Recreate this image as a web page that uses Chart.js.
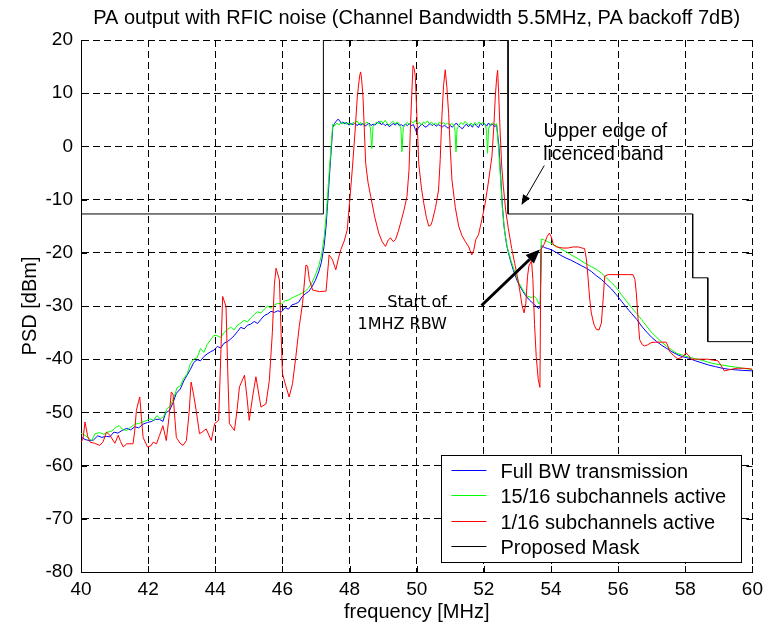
<!DOCTYPE html>
<html>
<head>
<meta charset="utf-8">
<script src="https://cdn.jsdelivr.net/npm/chart.js@4.4.0/dist/chart.umd.min.js"></script>
<style>
  html, body { margin: 0; padding: 0; background: #fff; }
</style>
</head>
<body>
<canvas id="psdChart" width="769" height="627"></canvas>
<script>
// axis ticks
const freqTicks = [40, 42, 44, 46, 48, 50, 52, 54, 56, 58, 60];
const psdTicks = [20, 10, 0, -10, -20, -30, -40, -50, -60, -70, -80];

const seriesNames = ['Full BW transmission', '15/16 subchannels active', '1/16 subchannels active', 'Proposed Mask'];

// [frequency MHz, PSD dBm]
const fullBwTrace = [
  [40.0,-54.6],[40.12,-55.1],[40.25,-55.3],[40.37,-55.2],[40.5,-54.4],[40.62,-54.7],[40.75,-54.5],[40.86,-54.6],
  [40.98,-53.7],[41.1,-53.9],[41.22,-53.4],[41.36,-53.0],[41.48,-53.3],[41.6,-52.7],[41.72,-52.9],[41.85,-52.2],
  [41.98,-51.9],[42.1,-51.7],[42.22,-51.3],[42.34,-51.3],[42.44,-51.7],[42.52,-50.1],[42.64,-49.6],[42.74,-48.2],
  [42.84,-46.4],[42.96,-45.6],[43.06,-44.1],[43.16,-43.0],[43.26,-41.9],[43.36,-40.6],[43.46,-40.1],[43.56,-40.3],
  [43.66,-39.5],[43.76,-39.0],[43.86,-38.6],[43.96,-38.3],[44.06,-37.6],[44.16,-37.9],[44.26,-37.0],[44.36,-36.7],
  [44.46,-36.2],[44.56,-35.6],[44.66,-34.8],[44.76,-34.0],[44.86,-34.3],[44.96,-33.6],[45.06,-33.4],[45.16,-32.9],
  [45.26,-33.3],[45.36,-32.5],[45.46,-31.8],[45.56,-31.5],[45.66,-31.0],[45.76,-31.2],[45.86,-30.9],[45.97,-31.1],
  [46.08,-30.3],[46.18,-30.6],[46.28,-29.8],[46.38,-29.6],[46.48,-29.3],[46.58,-28.3],[46.68,-27.7],[46.78,-27.3],
  [46.88,-26.4],[46.98,-25.2],[47.08,-23.6],[47.16,-21.8],[47.24,-18.8],[47.3,-15.0],[47.34,-11.3],[47.39,-6.5],
  [47.44,-1.9],[47.5,3.6],
  [47.55,4.3],[47.6,4.7],[47.65,5.1],[47.7,4.9],[47.75,4.3],[47.8,4.6],[47.86,4.2],[47.92,4.5],[47.98,4.0],
  [48.04,4.3],[48.1,4.1],[48.16,4.4],[48.22,3.9],[48.28,4.2],[48.34,4.0],[48.4,4.3],[48.46,3.8],[48.52,4.1],
  [48.58,4.4],[48.64,3.9],[48.7,4.2],[48.76,4.0],[48.82,4.4],[48.88,4.7],[48.94,4.1],[49.0,4.3],[49.06,3.9],
  [49.12,4.2],[49.18,3.7],[49.24,4.0],[49.3,4.3],[49.36,4.0],[49.42,4.4],[49.48,3.9],[49.54,4.1],[49.6,3.8],
  [49.66,4.2],[49.72,3.9],[49.78,4.3],[49.84,3.9],[49.9,4.1],[49.96,3.2],[50.0,2.6],[50.04,3.4],[50.1,3.9],
  [50.16,4.2],[50.22,3.8],[50.28,3.6],[50.34,4.0],[50.4,4.3],[50.46,3.9],[50.52,4.2],[50.58,3.8],[50.64,4.1],
  [50.7,3.9],[50.76,3.6],[50.82,4.0],[50.88,3.7],[50.94,3.4],[51.0,3.9],[51.06,3.6],[51.12,4.0],[51.18,4.4],
  [51.24,3.9],[51.3,3.6],[51.36,3.3],[51.42,3.8],[51.48,4.2],[51.54,3.7],[51.6,4.1],[51.66,3.6],[51.72,4.3],
  [51.78,3.9],[51.84,3.5],[51.9,4.4],[51.96,3.9],[52.02,4.3],[52.08,3.8],[52.14,4.4],[52.2,3.9],[52.26,4.2],
  [52.32,3.7],[52.38,4.0],
  [52.45,0.0],[52.5,-5.5],[52.55,-11.0],[52.6,-15.0],[52.68,-18.6],[52.78,-21.2],[52.88,-23.3],[53.0,-25.4],
  [53.12,-26.8],[53.24,-28.0],[53.36,-28.9],[53.48,-29.6],[53.58,-30.2],[53.64,-30.5],[53.68,-29.9],[53.71,-18.6],
  [53.8,-19.0],[53.9,-19.2],[54.0,-19.4],[54.15,-19.9],[54.3,-20.5],[54.45,-21.0],[54.6,-21.4],[54.75,-21.9],
  [54.9,-22.4],[55.05,-22.9],[55.2,-23.5],[55.35,-24.3],[55.5,-25.0],[55.65,-25.9],[55.8,-26.8],[55.95,-27.9],
  [56.1,-29.1],[56.25,-30.3],[56.4,-31.4],[56.55,-32.5],[56.7,-33.8],[56.85,-34.9],[57.0,-35.9],[57.15,-36.7],
  [57.3,-37.4],[57.45,-38.0],[57.6,-38.6],[57.75,-39.1],[57.9,-39.5],[58.1,-39.8],[58.3,-40.3],[58.5,-40.7],
  [58.7,-41.1],[58.9,-41.4],[59.1,-41.7],[59.3,-41.9],[59.5,-42.0],[59.7,-42.1],[60.0,-42.2]
];

const subch15Trace = [
  [40.0,-53.9],[40.12,-54.3],[40.25,-55.0],[40.32,-55.3],[40.42,-54.0],[40.55,-53.8],[40.68,-54.1],[40.8,-53.7],
  [40.92,-53.5],[41.04,-52.8],[41.14,-52.5],[41.24,-53.2],[41.36,-53.4],[41.48,-52.8],[41.6,-52.2],[41.72,-52.1],
  [41.84,-51.8],[41.96,-51.5],[42.06,-51.2],[42.16,-51.5],[42.26,-50.6],[42.36,-51.2],[42.46,-50.8],[42.56,-49.3],
  [42.66,-48.8],[42.76,-47.3],[42.86,-45.4],[42.96,-45.0],[43.06,-43.6],[43.16,-42.8],[43.26,-40.8],[43.36,-40.0],
  [43.46,-39.7],[43.56,-38.0],[43.66,-38.7],[43.76,-37.2],[43.86,-36.4],[43.96,-35.5],[44.06,-35.6],[44.16,-35.9],
  [44.26,-35.0],[44.36,-34.4],[44.46,-34.0],[44.56,-34.5],[44.66,-33.6],[44.76,-33.2],[44.86,-32.7],[44.96,-33.0],
  [45.06,-32.2],[45.16,-31.6],[45.26,-31.1],[45.36,-31.3],[45.46,-30.6],[45.56,-30.0],[45.66,-30.4],[45.76,-29.8],
  [45.86,-29.5],[45.97,-29.6],[46.08,-29.0],[46.18,-28.9],[46.28,-28.5],[46.38,-28.2],[46.48,-27.9],[46.58,-27.6],
  [46.68,-27.2],[46.78,-26.6],[46.88,-25.6],[46.98,-24.2],[47.08,-22.5],[47.16,-20.5],[47.24,-17.2],[47.3,-13.2],
  [47.35,-8.8],[47.4,-4.2],[47.46,0.8],[47.5,4.2],
  [47.56,3.9],[47.62,4.4],[47.68,4.0],[47.74,4.5],[47.8,4.2],[47.86,4.6],[47.92,4.1],[47.98,4.4],[48.04,4.0],
  [48.1,4.5],[48.16,4.3],[48.22,4.8],[48.28,4.2],[48.34,4.5],[48.4,4.0],[48.46,4.3],[48.52,4.6],[48.58,4.1],
  [48.62,3.5],[48.66,-0.4],[48.7,3.8],[48.76,4.3],[48.82,4.6],[48.88,4.2],[48.94,4.8],[49.0,4.4],[49.06,4.9],
  [49.12,4.3],[49.18,4.0],[49.24,4.5],[49.3,4.7],[49.36,4.2],[49.42,4.6],[49.48,4.3],[49.53,3.2],[49.56,-1.0],
  [49.6,3.5],[49.66,4.2],[49.72,4.5],[49.78,4.1],[49.84,4.7],[49.9,4.4],[49.96,4.9],[50.02,4.2],[50.08,4.5],
  [50.14,4.0],[50.2,4.6],[50.26,4.3],[50.32,4.8],[50.38,4.2],[50.44,4.6],[50.5,4.1],[50.56,4.4],[50.62,4.0],
  [50.68,4.6],[50.74,4.2],[50.8,4.5],[50.86,4.1],[50.92,4.4],[50.98,4.0],[51.04,4.3],[51.1,4.1],[51.14,3.0],
  [51.17,-1.0],[51.2,3.2],[51.26,4.0],[51.32,4.5],[51.38,4.1],[51.44,4.7],[51.5,4.3],[51.56,4.0],[51.62,4.4],
  [51.68,3.9],[51.74,4.5],[51.8,4.1],[51.86,4.6],[51.92,4.2],[51.98,4.5],[52.04,4.1],[52.08,3.0],[52.11,-1.3],
  [52.14,3.3],[52.2,4.2],[52.26,4.4],[52.32,4.0],[52.38,4.3],
  [52.44,-0.7],[52.5,-6.5],[52.55,-11.5],[52.62,-16.2],[52.7,-19.0],[52.8,-21.3],[52.92,-23.6],[53.04,-25.6],
  [53.16,-27.0],[53.28,-28.1],[53.4,-28.4],[53.5,-28.2],[53.58,-28.7],[53.64,-29.6],[53.68,-29.3],[53.71,-17.4],
  [53.8,-17.6],[53.9,-17.9],[54.0,-18.2],[54.15,-18.7],[54.3,-19.3],[54.45,-19.8],[54.6,-20.4],[54.75,-20.9],
  [54.9,-21.5],[55.05,-22.1],[55.2,-22.6],[55.35,-23.1],[55.5,-23.8],[55.65,-24.7],[55.8,-25.6],[55.95,-26.6],
  [56.1,-27.9],[56.25,-29.1],[56.4,-30.3],[56.55,-31.4],[56.7,-32.6],[56.85,-33.8],[57.0,-35.0],[57.15,-35.9],
  [57.3,-36.8],[57.45,-37.6],[57.6,-38.3],[57.75,-38.9],[57.9,-39.2],[58.1,-39.6],[58.3,-39.9],[58.5,-40.2],
  [58.7,-40.6],[58.9,-40.9],[59.1,-41.1],[59.3,-41.3],[59.5,-41.5],[59.7,-41.7],[60.0,-41.9]
];

const subch1Trace = [
  [40.0,-55.6],[40.06,-55.0],[40.12,-51.8],[40.2,-54.5],[40.27,-55.6],[40.4,-55.8],[40.56,-56.2],[40.66,-55.5],
  [40.76,-53.7],[40.86,-54.3],[41.01,-55.8],[41.11,-54.3],[41.18,-55.5],[41.26,-56.5],[41.36,-55.9],[41.55,-55.9],
  [41.6,-53.5],[41.65,-49.6],[41.75,-47.1],[41.8,-51.0],[41.85,-54.7],[41.98,-56.5],[42.08,-56.3],[42.15,-55.6],
  [42.25,-55.9],[42.34,-54.3],[42.44,-52.5],[42.54,-55.3],[42.62,-51.0],[42.69,-46.2],[42.74,-46.5],[42.8,-51.5],
  [42.84,-54.7],[42.95,-55.8],[43.04,-56.2],[43.14,-55.3],[43.22,-50.0],[43.28,-44.3],[43.35,-46.5],[43.43,-49.6],
  [43.53,-54.0],[43.63,-53.6],[43.73,-53.1],[43.88,-55.3],[43.98,-52.1],[44.1,-51.5],[44.16,-40.0],[44.22,-28.2],
  [44.32,-30.1],[44.37,-42.0],[44.42,-52.1],[44.57,-53.4],[44.65,-49.5],[44.72,-45.2],[44.87,-43.0],[44.95,-47.5],
  [45.01,-51.5],[45.11,-47.1],[45.21,-43.3],[45.36,-49.0],[45.51,-48.4],[45.61,-44.0],[45.7,-35.0],[45.76,-26.0],
  [45.81,-22.9],[45.91,-25.1],[45.96,-35.0],[46.0,-42.7],[46.1,-45.0],[46.2,-47.1],[46.3,-44.6],[46.4,-39.5],
  [46.5,-33.9],[46.6,-29.5],[46.7,-22.3],[46.75,-22.5],[46.8,-25.0],[46.9,-27.0],[47.1,-27.3],[47.3,-27.2],
  [47.39,-20.4],[47.49,-21.3],[47.59,-23.2],[47.67,-21.0],[47.74,-19.4],[47.84,-17.8],[47.93,-15.7],[48.0,-10.5],
  [48.08,-4.4],[48.16,2.5],[48.23,9.3],[48.3,13.3],[48.33,14.0],[48.36,12.5],[48.4,9.3],[48.48,-3.2],
  [48.55,-6.8],[48.63,-9.4],[48.75,-13.3],[48.87,-16.3],[48.97,-17.9],[49.07,-18.8],[49.15,-17.6],[49.22,-17.2],
  [49.3,-17.9],[49.37,-17.5],[49.45,-16.0],[49.52,-14.4],[49.62,-12.0],[49.71,-9.4],[49.77,-4.5],[49.81,3.1],
  [49.86,11.0],[49.89,15.2],[49.93,14.5],[49.96,13.0],[50.01,5.0],[50.06,-3.2],[50.14,-7.8],[50.21,-10.7],
  [50.29,-13.4],[50.36,-15.0],[50.42,-14.8],[50.46,-14.1],[50.56,-11.5],[50.65,-8.2],[50.7,-2.5],[50.75,5.6],
  [50.8,11.5],[50.85,14.4],[50.9,11.0],[50.95,6.2],[51.0,-0.5],[51.05,-6.3],[51.15,-11.5],[51.25,-15.0],
  [51.35,-16.8],[51.45,-17.9],[51.55,-18.9],[51.64,-20.4],[51.7,-19.5],[51.76,-17.5],[51.84,-16.6],[51.94,-13.8],
  [52.04,-10.7],[52.14,-6.5],[52.24,-1.9],[52.3,4.0],[52.34,9.3],[52.38,12.8],[52.41,14.3],[52.44,10.0],
  [52.48,3.5],[52.53,-3.5],[52.58,-7.5],[52.65,-12.0],[52.73,-15.5],[52.83,-19.2],[52.92,-22.0],[53.0,-24.5],
  [53.08,-27.5],[53.14,-30.0],[53.2,-31.3],[53.25,-29.5],[53.3,-24.5],[53.34,-22.5],[53.42,-21.5],[53.46,-25.0],
  [53.51,-33.5],[53.56,-39.5],[53.62,-43.8],[53.67,-45.3],[53.7,-19.4],[53.81,-18.2],[53.88,-17.0],[53.95,-16.3],
  [54.01,-17.0],[54.07,-18.5],[54.17,-18.9],[54.35,-19.1],[54.51,-19.1],[54.66,-18.9],[54.81,-18.9],[54.92,-19.1],
  [55.0,-19.2],[55.05,-21.0],[55.1,-24.4],[55.15,-28.5],[55.2,-31.3],[55.28,-33.5],[55.35,-34.4],[55.43,-34.5],
  [55.5,-33.2],[55.55,-29.0],[55.6,-24.4],[55.7,-24.1],[56.0,-24.1],[56.3,-24.1],[56.44,-24.1],[56.5,-25.0],
  [56.54,-27.5],[56.6,-33.0],[56.64,-36.3],[56.72,-37.3],[56.79,-37.5],[56.88,-37.3],[56.98,-36.9],[57.1,-36.8],
  [57.3,-36.8],[57.43,-36.8],[57.48,-37.5],[57.53,-38.5],[57.65,-39.3],[57.77,-39.9],[57.9,-39.7],[58.02,-38.8],
  [58.1,-39.3],[58.17,-40.0],[58.4,-40.0],[58.67,-40.0],[58.85,-40.2],[58.97,-40.3],[59.05,-41.0],[59.16,-42.2],
  [59.3,-42.0],[59.45,-41.8],[59.56,-41.7],[59.75,-41.7],[59.9,-41.8],[60.0,-41.9]
];

const maskFreq = [40, 47.22, 47.22, 52.72, 52.72, 58.22, 58.22, 58.67, 58.67, 60];
const maskPsd = [-12.7, -12.7, 20, 20, -12.7, -12.7, -24.7, -24.7, -36.7, -36.7];

const seriesColors = ['#0000ff', '#00ff00', '#ff0000', '#000000'];

// text notes on the plot, placed in data units
const notes = [
  { text: 'Upper edge of', f: 55.62, v: 1.8, align: 'center', font: '19.5px "Liberation Sans", Arial, sans-serif' },
  { text: 'licenced band', f: 55.56, v: -2.6, align: 'center', font: '19.5px "Liberation Sans", Arial, sans-serif' },
  { text: 'Start of', f: 50.9, v: -30.15, align: 'right', font: '16px "DejaVu Sans", sans-serif' },
  { text: '1MHZ RBW', f: 50.9, v: -34.3, align: 'right', font: '16px "DejaVu Sans", sans-serif' }
];
const arrows = [
  { from: [53.8, -3.6], to: [53.12, -11.0], width: 1, head: 10, headW: 4 },
  { from: [51.93, -29.9], to: [53.67, -19.4], width: 3, head: 14, headW: 6 }
];

function toPoints(trace) {
  return trace.map(p => ({ x: p[0], y: p[1] }));
}

const FONT = '"Liberation Sans", Arial, sans-serif';

function drawArrow(ctx, x1, y1, x2, y2, w, head, headW) {
  const ang = Math.atan2(y2 - y1, x2 - x1);
  const bx = x2 - head * Math.cos(ang);
  const by = y2 - head * Math.sin(ang);
  ctx.save();
  ctx.strokeStyle = '#000';
  ctx.fillStyle = '#000';
  ctx.lineWidth = w;
  ctx.beginPath();
  ctx.moveTo(x1, y1);
  ctx.lineTo(bx, by);
  ctx.stroke();
  ctx.beginPath();
  ctx.moveTo(x2, y2);
  ctx.lineTo(bx + headW * Math.sin(ang), by - headW * Math.cos(ang));
  ctx.lineTo(bx - headW * Math.sin(ang), by + headW * Math.cos(ang));
  ctx.closePath();
  ctx.fill();
  ctx.restore();
}

// matlab style extras: inner ticks, notes, arrows, boxed legend
const matlabDecor = {
  id: 'matlabDecor',
  afterDraw(chart) {
    const ctx = chart.ctx;
    const xs = chart.scales.x, ys = chart.scales.y;
    const a = chart.chartArea;
    ctx.save();
    ctx.strokeStyle = '#000';
    ctx.lineWidth = 1;
    ctx.beginPath();
    freqTicks.forEach(t => {
      const px = Math.round(xs.getPixelForValue(t)) + 0.5;
      ctx.moveTo(px, a.bottom); ctx.lineTo(px, a.bottom - 6);
      ctx.moveTo(px, a.top); ctx.lineTo(px, a.top + 6);
    });
    psdTicks.forEach(t => {
      const py = Math.round(ys.getPixelForValue(t)) + 0.5;
      ctx.moveTo(a.left, py); ctx.lineTo(a.left + 6, py);
      ctx.moveTo(a.right, py); ctx.lineTo(a.right - 6, py);
    });
    ctx.stroke();

    // notes
    ctx.fillStyle = '#000';
    ctx.textBaseline = 'alphabetic';
    notes.forEach(n => {
      ctx.font = n.font;
      ctx.textAlign = n.align;
      ctx.fillText(n.text, xs.getPixelForValue(n.f), ys.getPixelForValue(n.v));
    });
    arrows.forEach(ar => {
      drawArrow(ctx,
        xs.getPixelForValue(ar.from[0]), ys.getPixelForValue(ar.from[1]),
        xs.getPixelForValue(ar.to[0]), ys.getPixelForValue(ar.to[1]),
        ar.width, ar.head, ar.headW);
    });

    // legend box
    const bw = 300, bh = 107;
    const bx = a.right - 11 - bw, by = a.bottom - 10 - bh;
    ctx.fillStyle = '#fff';
    ctx.fillRect(bx, by, bw, bh);
    ctx.strokeStyle = '#000';
    ctx.lineWidth = 1;
    ctx.strokeRect(Math.round(bx) + 0.5, Math.round(by) + 0.5, bw, bh);
    ctx.font = '20px ' + FONT;
    ctx.textAlign = 'left';
    chart.data.datasets.forEach((ds, i) => {
      const ry = Math.round(by + 15 + i * 25.3) + 0.5;
      ctx.strokeStyle = ds.borderColor;
      ctx.beginPath();
      ctx.moveTo(bx + 10, ry);
      ctx.lineTo(bx + 45, ry);
      ctx.stroke();
      ctx.fillStyle = '#000';
      ctx.fillText(ds.label, bx + 59, ry + 7);
    });
    ctx.restore();
  }
};

const datasets = [
  toPoints(fullBwTrace),
  toPoints(subch15Trace),
  toPoints(subch1Trace),
  maskFreq.map((f, i) => ({ x: f, y: maskPsd[i] }))
].map((pts, i) => ({
  label: seriesNames[i],
  data: pts,
  borderColor: seriesColors[i],
  borderWidth: 1,
  pointRadius: 0,
  tension: 0,
  fill: false,
  order: 4 - i
}));

new Chart(document.getElementById('psdChart'), {
  type: 'line',
  data: { datasets: datasets },
  options: {
    responsive: false,
    animation: false,
    events: [],
    layout: { padding: { left: 0, right: 15, top: 0, bottom: 0 } },
    plugins: {
      legend: { display: false },
      tooltip: { enabled: false },
      title: {
        display: true,
        fullSize: false,
        text: 'PA output with RFIC noise (Channel Bandwidth 5.5MHz, PA backoff 7dB)',
        color: '#000',
        font: { family: FONT, size: 20, weight: 'normal' },
        padding: { top: 6, bottom: 10 }
      }
    },
    scales: {
      x: {
        type: 'linear',
        min: 40, max: 60,
        afterFit: s => { s.height = 55; },
        afterBuildTicks: s => { s.ticks = freqTicks.map(v => ({ value: v })); },
        ticks: { color: '#000', font: { family: FONT, size: 19 }, padding: 6, autoSkip: false, maxRotation: 0 },
        grid: { color: '#000', lineWidth: 1, drawTicks: false },
        border: { display: true, color: '#000', width: 1, dash: [7, 4] },
        title: { display: true, text: 'frequency [MHz]', color: '#000',
                 font: { family: FONT, size: 20 }, padding: { top: 0, bottom: 3 } }
      },
      y: {
        min: -80, max: 20,
        afterFit: s => { s.width = 81; },
        afterBuildTicks: s => { s.ticks = psdTicks.map(v => ({ value: v })); },
        ticks: { color: '#000', font: { family: FONT, size: 19 }, padding: 8 },
        grid: { color: '#000', lineWidth: 1, drawTicks: false },
        border: { display: true, color: '#000', width: 1, dash: [7, 4] },
        title: { display: true, text: 'PSD [dBm]', color: '#000',
                 font: { family: FONT, size: 20 }, padding: { top: 18, bottom: 0 } }
      }
    }
  },
  plugins: [matlabDecor]
});
</script>
</body>
</html>
